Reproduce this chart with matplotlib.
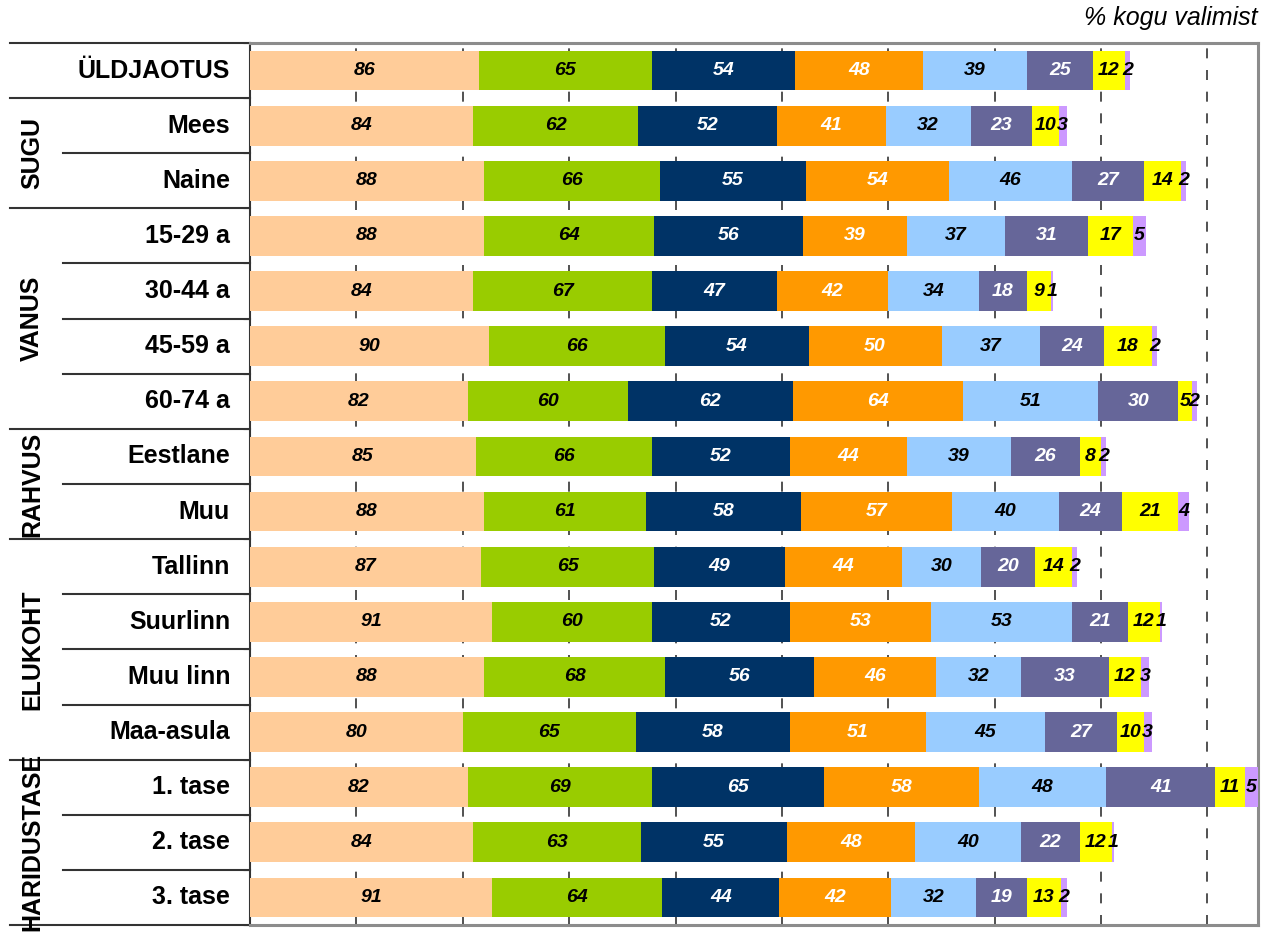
import numpy as np
import matplotlib.pyplot as plt

plt.rcParams["font.family"] = ["Liberation Sans", "DejaVu Sans"]

rows = ["ÜLDJAOTUS", "Mees", "Naine", "15-29 a", "30-44 a", "45-59 a", "60-74 a",
        "Eestlane", "Muu", "Tallinn", "Suurlinn", "Muu linn", "Maa-asula",
        "1. tase", "2. tase", "3. tase"]

s1 = [86, 84, 88, 88, 84, 90, 82, 85, 88, 87, 91, 88, 80, 82, 84, 91]
s2 = [65, 62, 66, 64, 67, 66, 60, 66, 61, 65, 60, 68, 65, 69, 63, 64]
s3 = [54, 52, 55, 56, 47, 54, 62, 52, 58, 49, 52, 56, 58, 65, 55, 44]
s4 = [48, 41, 54, 39, 42, 50, 64, 44, 57, 44, 53, 46, 51, 58, 48, 42]
s5 = [39, 32, 46, 37, 34, 37, 51, 39, 40, 30, 53, 32, 45, 48, 40, 32]
s6 = [25, 23, 27, 31, 18, 24, 30, 26, 24, 20, 21, 33, 27, 41, 22, 19]
s7 = [12, 10, 14, 17, 9, 18, 5, 8, 21, 14, 12, 12, 10, 11, 12, 13]
s8 = [2, 3, 2, 5, 1, 2, 2, 2, 4, 2, 1, 3, 3, 5, 1, 2]

series = [s1, s2, s3, s4, s5, s6, s7, s8]
colors = ["#FFCC99", "#99CC00", "#003366", "#FF9900", "#99CCFF", "#666699", "#FFFF00", "#CC99FF"]
txt_colors = ["black", "black", "white", "white", "black", "white", "black", "black"]

# group labels: (name, first row, last row)
groups = [("SUGU", 1, 2), ("VANUS", 3, 6), ("RAHVUS", 7, 8),
          ("ELUKOHT", 9, 12), ("HARIDUSTASE", 13, 15)]

fig = plt.figure(figsize=(12.64, 9.38), dpi=100)
ax = fig.add_axes([250 / 1264, 1 - 925 / 938, 1008 / 1264, 882 / 938])

y = np.arange(len(rows))
left = np.zeros(len(rows))
for vals, c, tc in zip(series, colors, txt_colors):
    vals = np.array(vals)
    ax.barh(y, vals, left=left, height=0.72, color=c, zorder=3)
    for yi, l, v in zip(y, left, vals):
        ax.text(l + v / 2, yi, str(v), ha="center", va="center", color=tc,
                fontsize=14, fontweight="bold", fontstyle="italic", zorder=4)
    left = left + vals

ax.set_xlim(0, 379)
ax.set_ylim(len(rows) - 0.5, -0.5)
for gx in range(40, 379, 40):
    ax.axvline(gx, color="#333333", lw=1.2, ls=(0, (6, 7)), zorder=1)

ax.set_xticks([])
ax.set_yticks(np.arange(-0.5, len(rows), 1))
ax.set_yticklabels([])
ax.tick_params(axis="y", length=5, color="#333333")

ax.spines["left"].set_color("#333333")
ax.spines["left"].set_linewidth(1.5)
for sp in ["top", "right", "bottom"]:
    ax.spines[sp].set_color("#8c8c8c")
    ax.spines[sp].set_linewidth(2.2)

# left table
tr = ax.get_yaxis_transform()
for i, r in enumerate(rows):
    ax.text(-20 / 1008, i, r, transform=tr, ha="right", va="center",
            fontsize=18, fontweight="bold", clip_on=False)

group_bounds = [-0.5, 0.5, 2.5, 6.5, 8.5, 12.5, 15.5]
for b in group_bounds:
    ax.plot([-240 / 1008, 0], [b, b], transform=tr, color="#333333", lw=1.5, clip_on=False)
for b in [1.5, 3.5, 4.5, 5.5, 7.5, 9.5, 10.5, 11.5, 13.5, 14.5]:
    ax.plot([-187 / 1008, 0], [b, b], transform=tr, color="#333333", lw=1.5, clip_on=False)

for name, a, b in groups:
    ax.text(-218 / 1008, (a + b) / 2, name, transform=tr, rotation=90,
            ha="center", va="center", fontsize=18, fontweight="bold", clip_on=False)

fig.text(1258 / 1264, 1 - 18 / 938, "% kogu valimist", ha="right", va="center",
         fontsize=18, fontstyle="italic")

plt.savefig("out.png", dpi=100)
